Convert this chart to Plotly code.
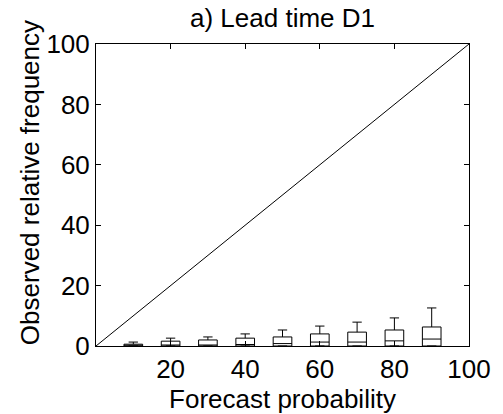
import plotly.graph_objects as go

prob = [10, 20, 30, 40, 50, 60, 70, 80, 90]
lower = [0, 0, 0, 0, 0, 0, 0, 0, 0]
q1 = [0, 0, 0, 0, 0, 0, 0, 0, 0]
median = [0.1, 0.3, 0.3, 0.5, 0.8, 1.3, 1.3, 1.7, 2.3]
q3 = [0.6, 1.6, 2.0, 2.6, 3.0, 4.0, 4.6, 5.3, 6.3]
upper = [1.3, 2.6, 3.0, 4.0, 5.3, 6.6, 7.9, 9.3, 12.6]
diag = [0, 100]

font = "Liberation Sans, Arial, sans-serif"
FS = 26
L, R, T, B = 96, 25, 44, 67
W, H = 503, 414
pw, ph = W - L - R, H - T - B

fig = go.Figure()
fig.add_trace(go.Scatter(x=diag, y=diag, mode="lines",
                         line=dict(color="black", width=1), showlegend=False))
fig.add_trace(go.Box(x=prob, q1=q1, median=median, q3=q3,
                     lowerfence=lower, upperfence=upper,
                     width=5, whiskerwidth=0.5,
                     fillcolor="white", line=dict(color="black", width=1),
                     showlegend=False, boxpoints=False))

axis_common = dict(showline=True, linecolor="black", linewidth=1, mirror="ticks",
                   ticks="inside", ticklen=5, tickcolor="black", showgrid=False,
                   zeroline=False, tickfont=dict(size=FS, color="black", family=font))
fig.update_xaxes(range=[0, 100], tickvals=[20, 40, 60, 80, 100],
                 title=dict(text="Forecast probability", font=dict(size=FS, color="black", family=font), standoff=0),
                 **axis_common)
fig.update_yaxes(range=[0, 100], tickvals=[0, 20, 40, 60, 80, 100], **axis_common)
fig.add_annotation(text="Observed relative frequency", textangle=-90, showarrow=False,
                   xref="paper", yref="paper",
                   x=(28 - L) / pw, y=(H - B - 183) / ph,
                   xanchor="center", yanchor="middle",
                   font=dict(size=FS, color="black", family=font))
fig.update_layout(
    width=W, height=H,
    margin=dict(l=L, r=R, t=T, b=B),
    paper_bgcolor="white", plot_bgcolor="white",
    title=dict(text="a) Lead time D1", x=0.5, xanchor="center", xref="paper",
               y=1 - 18 / H, yanchor="middle",
               font=dict(size=FS, color="black", family=font)),
)
fig.write_html("out.html")
